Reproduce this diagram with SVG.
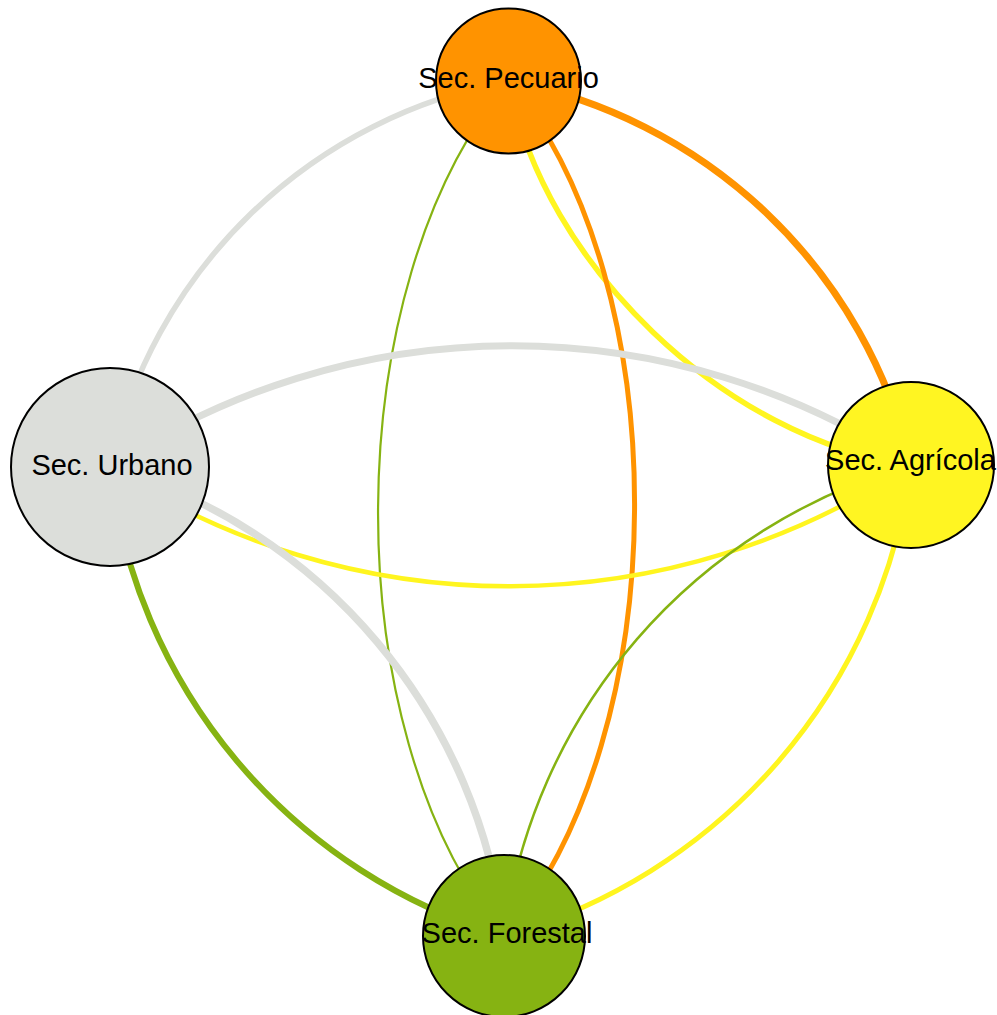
<svg xmlns="http://www.w3.org/2000/svg" width="997" height="1015" viewBox="0 0 997 1015">
<style>
.e{fill:none;stroke-linecap:butt}
.gray{stroke:#DCDEDA}
.orange{stroke:#FF9300}
.yellow{stroke:#FFF51F}
.green{stroke:#86B312}
.n{stroke:#000;stroke-width:2}
.t{font-family:"Liberation Sans",Arial,sans-serif;font-size:29px;fill:#000;text-anchor:middle}
</style>
<rect width="997" height="1015" fill="#fff"/>
<g id="connectors">
<path class="e gray" stroke-width="5.5" d="M110,467 A500,500 0 0 1 509,81"/>
<path class="e orange" stroke-width="7" d="M509,81 A510,510 0 0 1 911,465"/>
<path class="e yellow" stroke-width="5.5" d="M509,81 C542.4,264.3 726.4,440.1 911,465"/>
<path class="e green" stroke-width="2.2" d="M509,81 C336.4,284.1 334.1,731.1 504,936"/>
<path class="e orange" stroke-width="5" d="M509,81 C678.4,285.9 676.1,732.9 504,936"/>
<path class="e gray" stroke-width="7" d="M110,467 A727,727 0 0 1 911,465"/>
<path class="e yellow" stroke-width="4.5" d="M110,467 A727,727 0 0 0 911,465"/>
<path class="e gray" stroke-width="7.5" d="M110,467 A556,556 0 0 1 504,936"/>
<path class="e green" stroke-width="6" d="M110,467 A556,556 0 0 0 504,936"/>
<path class="e green" stroke-width="2.5" d="M911,465 A565,565 0 0 0 504,936"/>
<path class="e yellow" stroke-width="5" d="M911,465 A565,565 0 0 1 504,936"/>
</g>
<g id="node-pecuario">
<circle class="n" cx="508.5" cy="81" r="72.5" fill="#FF9300"/>
<text class="t" x="508.5" y="88">Sec. Pecuario</text>
</g>
<g id="node-urbano">
<circle class="n" cx="110" cy="467" r="99" fill="#DCDEDA"/>
<text class="t" x="112" y="475">Sec. Urbano</text>
</g>
<g id="node-agricola">
<circle class="n" cx="911" cy="465" r="83" fill="#FFF522"/>
<text class="t" x="910.5" y="470">Sec. Agrícola</text>
</g>
<g id="node-forestal">
<circle class="n" cx="504" cy="936" r="81" fill="#86B312"/>
<text class="t" x="507" y="943">Sec. Forestal</text>
</g>
</svg>
